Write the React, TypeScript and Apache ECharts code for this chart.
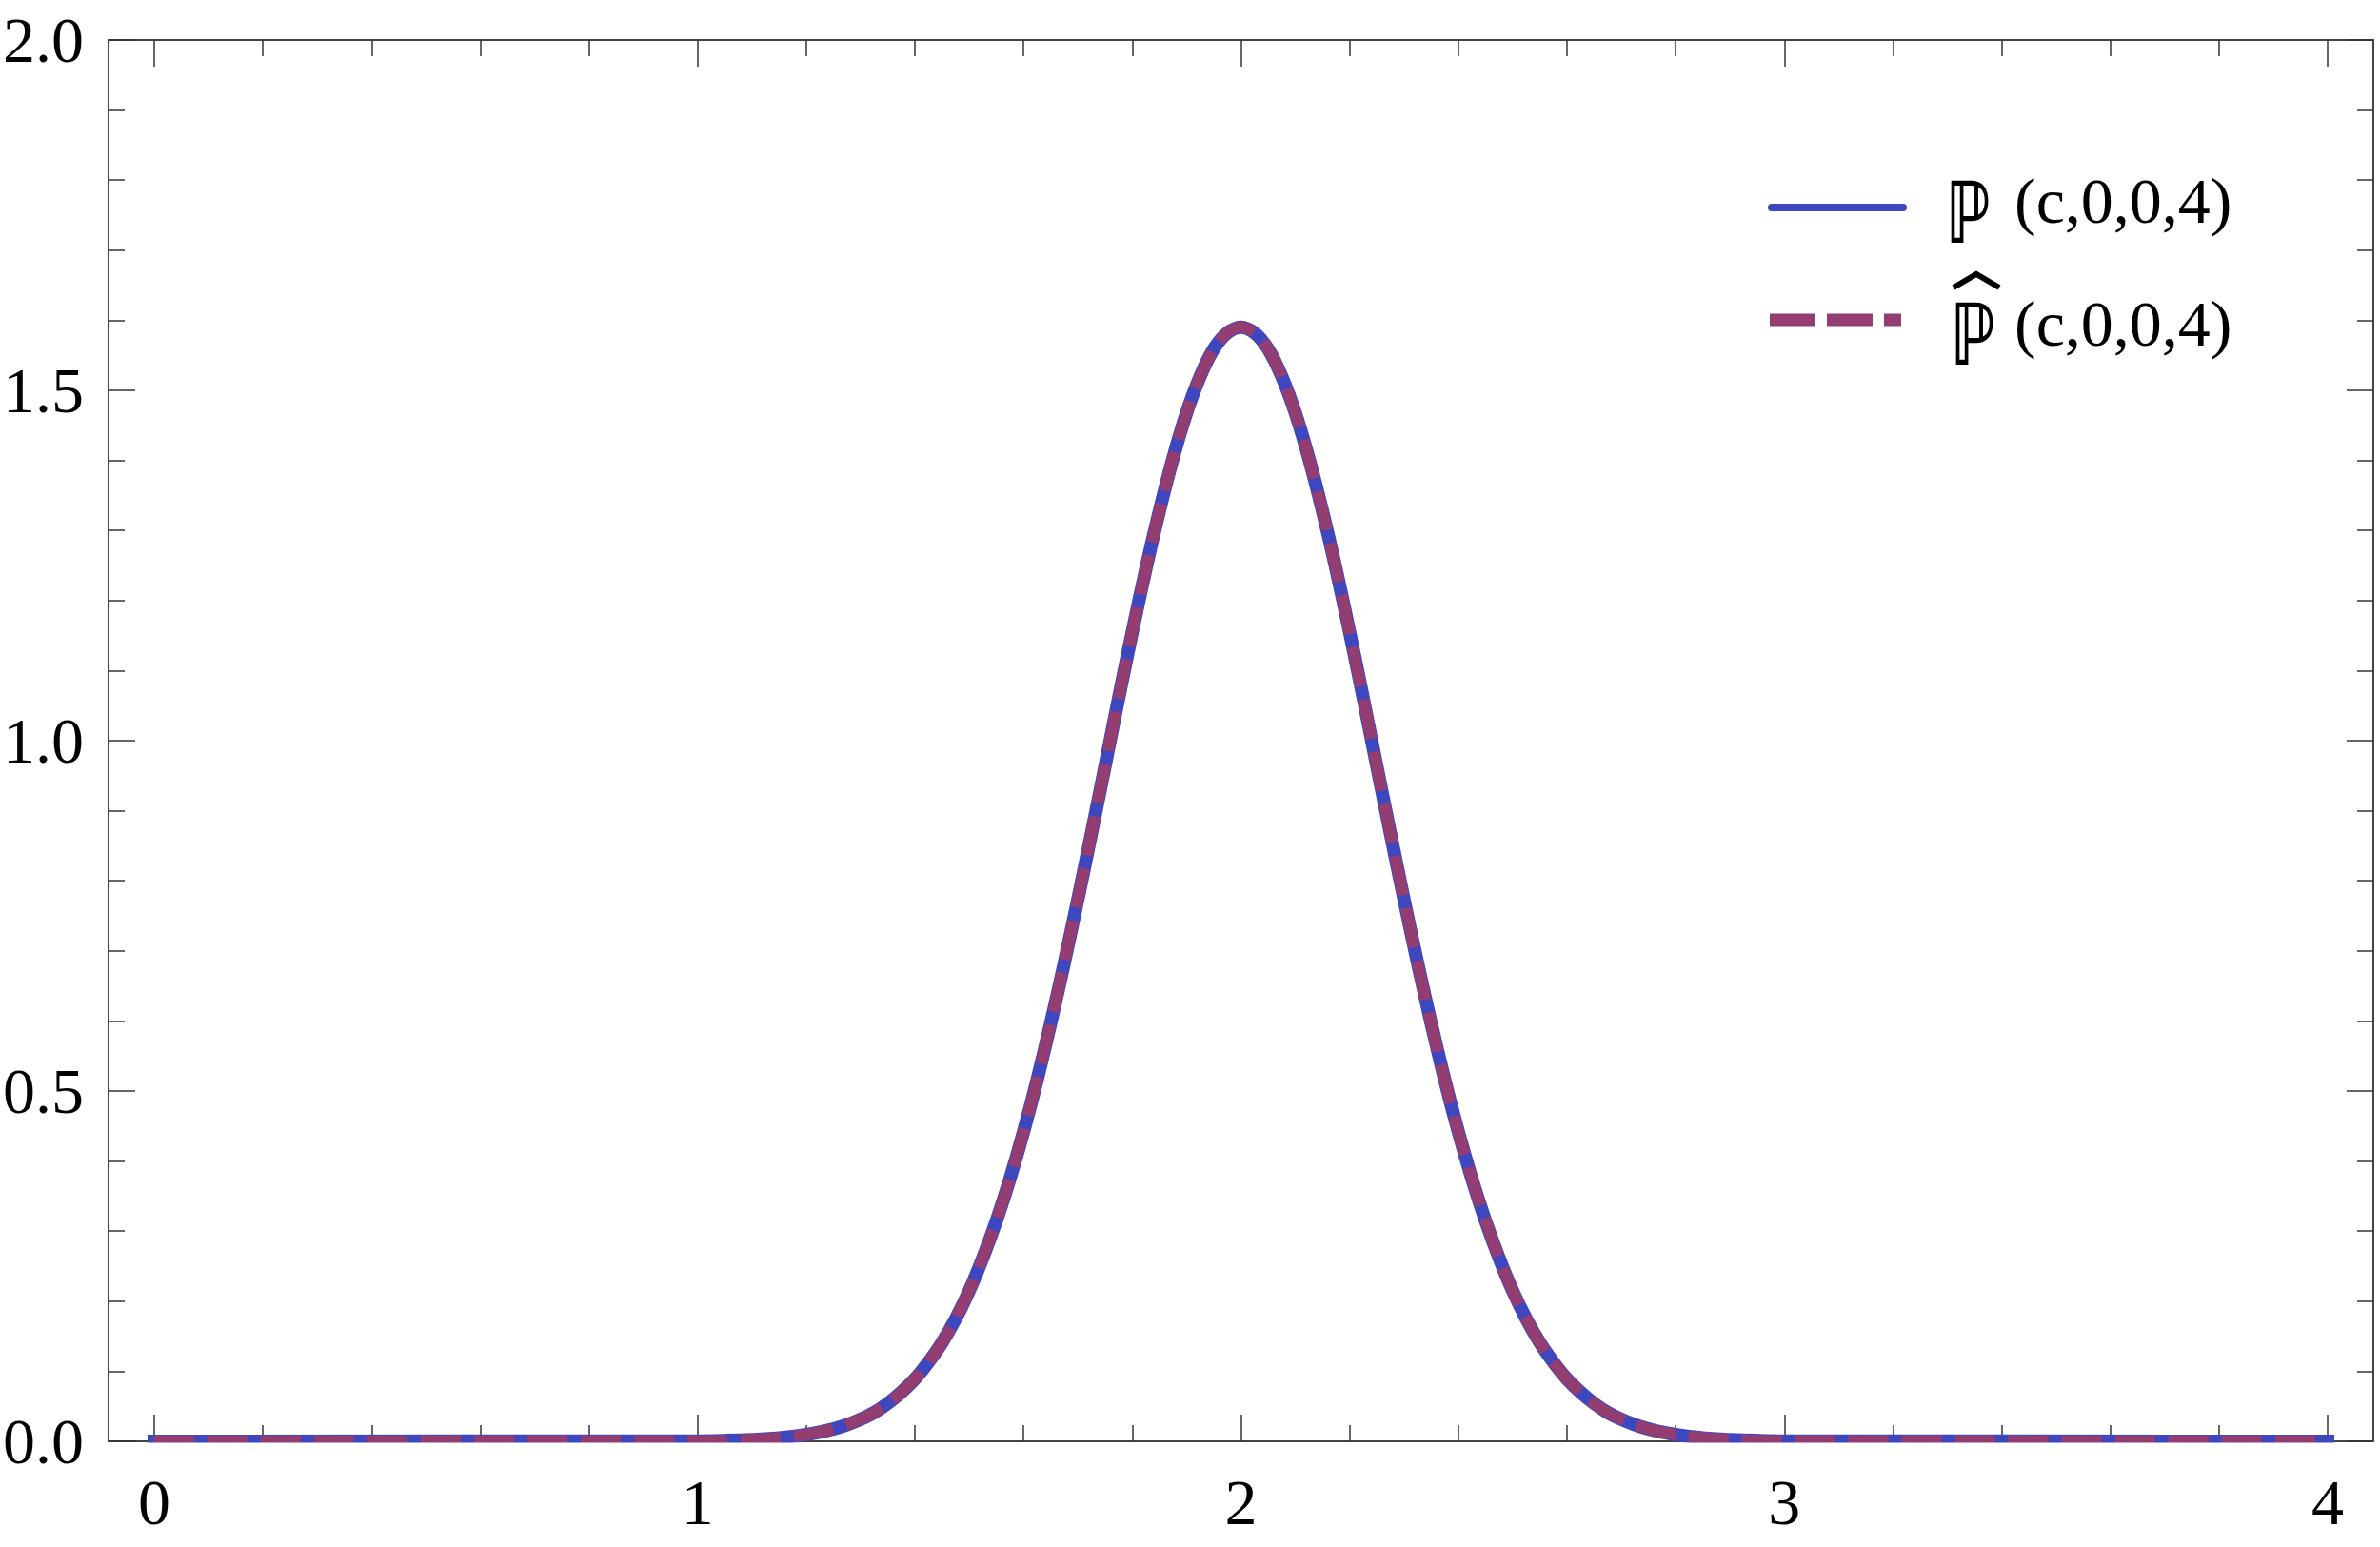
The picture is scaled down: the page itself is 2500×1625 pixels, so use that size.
import React, { useEffect, useRef } from "react";
import * as echarts from "echarts";

const xValues = [
  0, 1, 1.05,
  1.1, 1.125, 1.15, 1.175, 1.2, 1.225, 1.25, 1.275, 1.3, 1.325, 1.35, 1.375, 1.4, 1.425, 1.45, 1.475,
  1.5, 1.525, 1.55, 1.575, 1.6, 1.625, 1.65, 1.675, 1.7, 1.725, 1.75, 1.775, 1.8, 1.825, 1.85, 1.875,
  1.9, 1.925, 1.95, 1.975, 2,
  2.025, 2.05, 2.075, 2.1, 2.125, 2.15, 2.175, 2.2, 2.225, 2.25, 2.275, 2.3, 2.325, 2.35, 2.375, 2.4,
  2.425, 2.45, 2.475, 2.5, 2.525, 2.55, 2.575, 2.6, 2.625, 2.65, 2.675, 2.7, 2.725, 2.75, 2.775, 2.8,
  2.825, 2.85, 2.875, 2.9, 2.95, 3, 4,
];
// ℙ(c,0,0,4)
const pValues = [
  0, 0.0005, 0.0012,
  0.0024, 0.0035, 0.0049, 0.0069, 0.0095, 0.013, 0.0176, 0.0237, 0.0315, 0.041, 0.054, 0.07, 0.089, 0.113, 0.141, 0.175,
  0.215, 0.262, 0.315, 0.375, 0.442, 0.516, 0.597, 0.683, 0.774, 0.868, 0.964, 1.061, 1.155, 1.245, 1.328, 1.403,
  1.468, 1.52, 1.559, 1.582, 1.59,
  1.582, 1.559, 1.52, 1.468, 1.403, 1.328, 1.245, 1.155, 1.061, 0.964, 0.868, 0.774, 0.683, 0.597, 0.516, 0.442,
  0.375, 0.315, 0.262, 0.215, 0.175, 0.141, 0.113, 0.089, 0.07, 0.054, 0.041, 0.0315, 0.0237, 0.0176, 0.013, 0.0095,
  0.0069, 0.0049, 0.0035, 0.0024, 0.0012, 0.0005, 0,
];
// ℙ̂(c,0,0,4) — coincides with ℙ
const pHatValues = [
  0, 0.0005, 0.0012,
  0.0024, 0.0035, 0.0049, 0.0069, 0.0095, 0.013, 0.0176, 0.0237, 0.0315, 0.041, 0.054, 0.07, 0.089, 0.113, 0.141, 0.175,
  0.215, 0.262, 0.315, 0.375, 0.442, 0.516, 0.597, 0.683, 0.774, 0.868, 0.964, 1.061, 1.155, 1.245, 1.328, 1.403,
  1.468, 1.52, 1.559, 1.582, 1.59,
  1.582, 1.559, 1.52, 1.468, 1.403, 1.328, 1.245, 1.155, 1.061, 0.964, 0.868, 0.774, 0.683, 0.597, 0.516, 0.442,
  0.375, 0.315, 0.262, 0.215, 0.175, 0.141, 0.113, 0.089, 0.07, 0.054, 0.041, 0.0315, 0.0237, 0.0176, 0.013, 0.0095,
  0.0069, 0.0049, 0.0035, 0.0024, 0.0012, 0.0005, 0,
];

const xMajorTicks = [0, 1, 2, 3, 4];
const xMinorTicks = [
  0.2, 0.4, 0.6, 0.8, 1.2, 1.4, 1.6, 1.8, 2.2, 2.4, 2.6, 2.8, 3.2, 3.4, 3.6, 3.8,
];
const yMajorTicks = [0, 0.5, 1, 1.5, 2];
const yMinorTicks = [
  0.1, 0.2, 0.3, 0.4, 0.6, 0.7, 0.8, 0.9, 1.1, 1.2, 1.3, 1.4, 1.6, 1.7, 1.8, 1.9,
];

const seriesNames = ["ℙ(c,0,0,4)", "ℙ̂(c,0,0,4)"];
const legendSymbol = "ℙ";
const legendArgs = "(c,0,0,4)";

const BLUE = "#3F47BE";
const PURPLE = "#943D71";

export default function App() {
  const ref = useRef<HTMLDivElement>(null);

  useEffect(() => {
    if (!ref.current) return;
    const chart = echarts.init(ref.current, null, { renderer: "svg" });
    const serif = "Liberation Serif, 'Times New Roman', serif";
    const dsFont = "'DejaVu Serif', 'DejaVu Sans'";
    const tickColor = "#333";
    const frameColor = "#444";

    const makeX = (position: string, ticks: number[], len: number, labels: boolean, line: boolean) => ({
      type: "value",
      position,
      min: -0.084,
      max: 4.084,
      axisLine: { show: line, onZero: false, lineStyle: { color: frameColor, width: 2 } },
      axisTick: { show: true, inside: true, length: len, customValues: ticks, lineStyle: { color: tickColor, width: 1.5 } },
      axisLabel: labels
        ? { show: true, customValues: ticks, margin: 30, fontFamily: serif, fontSize: 68, color: "#000", formatter: (v: number) => String(v) }
        : { show: false },
      splitLine: { show: false },
    });
    const makeY = (position: string, ticks: number[], len: number, labels: boolean, line: boolean) => ({
      type: "value",
      position,
      min: 0,
      max: 2,
      axisLine: { show: line, onZero: false, lineStyle: { color: frameColor, width: 2 } },
      axisTick: { show: true, inside: true, length: len, customValues: ticks, lineStyle: { color: tickColor, width: 1.5 } },
      axisLabel: labels
        ? { show: true, customValues: ticks, margin: 26, fontFamily: serif, fontSize: 68, color: "#000", formatter: (v: number) => v.toFixed(1) }
        : { show: false },
      splitLine: { show: false },
    });

    const data1 = xValues.map((x, i) => [x, pValues[i]]);
    const data2 = xValues.map((x, i) => [x, pHatValues[i]]);

    chart.setOption({
      animation: false,
      backgroundColor: "#fff",
      grid: { left: 111, top: 42, right: 7, bottom: 111 },
      xAxis: [
        makeX("bottom", xMajorTicks, 28, true, true),
        makeX("bottom", xMinorTicks, 17, false, false),
        makeX("top", xMajorTicks, 28, false, true),
        makeX("top", xMinorTicks, 17, false, false),
      ],
      yAxis: [
        makeY("left", yMajorTicks, 28, true, true),
        makeY("left", yMinorTicks, 17, false, false),
        makeY("right", yMajorTicks, 28, false, true),
        makeY("right", yMinorTicks, 17, false, false),
      ],
      series: [
        {
          name: seriesNames[0],
          type: "line",
          xAxisIndex: 0,
          yAxisIndex: 0,
          data: data1,
          symbol: "none",
          smooth: 0.3,
          z: 2,
          lineStyle: { color: BLUE, width: 14, cap: "square", join: "round" },
        },
        {
          name: seriesNames[1],
          type: "line",
          xAxisIndex: 0,
          yAxisIndex: 0,
          data: data2,
          symbol: "none",
          smooth: 0.3,
          z: 3,
          lineStyle: { color: PURPLE, width: 12, type: [42, 14], cap: "butt", join: "round" },
        },
      ],
      graphic: [
        { type: "rect", z: 100, shape: { x: 100, y: 1515.5, width: 2400, height: 18 }, style: { fill: "#fff" } },
        // legend entry 1
        { type: "line", z: 100, shape: { x1: 1861, y1: 218, x2: 1999, y2: 218 }, style: { stroke: BLUE, lineWidth: 8, lineCap: "round" } },
        { type: "text", z: 100, x: 2044, y: 223, scaleX: 0.7, style: { text: legendSymbol, fontFamily: dsFont, fontWeight: "bold", fontSize: 90, fill: "#000", align: "left", verticalAlign: "middle" } },
        { type: "text", z: 100, x: 2116, y: 211, style: { text: legendArgs, fontFamily: serif, fontSize: 68, fill: "#000", align: "left", verticalAlign: "middle" } },
        // legend entry 2
        { type: "line", z: 100, shape: { x1: 1859, y1: 336, x2: 1997, y2: 336 }, style: { stroke: PURPLE, lineWidth: 13, lineDash: [48, 12] } },
        { type: "text", z: 100, x: 2049, y: 351, scaleX: 0.7, style: { text: legendSymbol, fontFamily: dsFont, fontWeight: "bold", fontSize: 90, fill: "#000", align: "left", verticalAlign: "middle" } },
        { type: "polyline", z: 100, shape: { points: [[2052, 302], [2076, 288], [2100, 302]] }, style: { stroke: "#000", lineWidth: 6, fill: null } },
        { type: "text", z: 100, x: 2116, y: 340, style: { text: legendArgs, fontFamily: serif, fontSize: 68, fill: "#000", align: "left", verticalAlign: "middle" } },
      ],
    });

    return () => chart.dispose();
  }, []);

  return <div ref={ref} style={{ position: "absolute", left: 0, top: 0, width: 2500, height: 1625 }} />;
}
